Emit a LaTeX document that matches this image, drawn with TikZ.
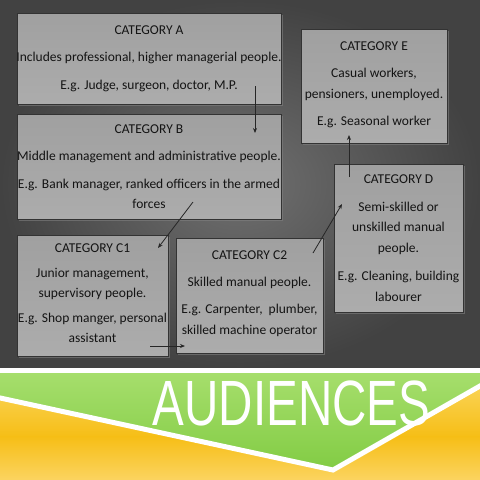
\documentclass[tikz,border=0pt]{standalone}
\usepackage{fontspec}
\setmainfont{Carlito}
\newfontfamily\audfont{Liberation Sans}
\usetikzlibrary{shadows,arrows.meta}
\definecolor{bgin}{RGB}{112,112,112}
\definecolor{bgout}{RGB}{66,66,66}
\definecolor{boxl}{RGB}{160,160,160}
\definecolor{boxm}{RGB}{200,200,200}
\definecolor{boxr}{RGB}{172,172,172}
\definecolor{grtop}{RGB}{166,222,108}
\definecolor{grbot}{RGB}{130,204,68}
\definecolor{yetop}{RGB}{251,216,100}
\definecolor{yemid}{RGB}{246,190,22}
\definecolor{yebot}{RGB}{251,212,96}
\tikzset{
  catbox/.style={draw=black!80, line width=0.8pt, left color=boxl, middle color=boxm, right color=boxr,
    shading angle=0, drop shadow={opacity=0.6, shadow xshift=2pt, shadow yshift=-2pt}, inner sep=0pt},
  cattext/.style={align=center, text=black!92, font=\fontsize{13.5}{20.5}\selectfont, inner sep=0pt},
  flow/.style={draw=black!85, line width=0.8pt, -{Stealth[length=5pt,width=4pt]}}
}
\begin{document}
\begin{tikzpicture}[x=1pt,y=-1pt]
\useasboundingbox (0,0) rectangle (480,480);
% background
\shade[inner color=bgin, outer color=bgout] (0,0) rectangle (480,368);
\fill[white] (0,368) rectangle (480,373);
\shade[top color=yetop, bottom color=yemid] (0,373) rectangle (480,437);
\shade[top color=yemid, bottom color=yebot] (0,436.5) rectangle (480,480);
\shade[top color=grtop, bottom color=grbot] (0,373) -- (480,373) -- (480,386) -- (333,470) -- (0,398) -- cycle;
\draw[white, line width=5pt, line join=miter] (-3,397.3) -- (333,470) -- (483,384.3);
\node[anchor=base, text=white, inner sep=0pt] (aud) at (291.5,425)
  {\scalebox{0.743}[1]{\audfont\fontsize{64}{64}\selectfont AUDIENCES}};
% boxes
\node[catbox, minimum width=264pt, minimum height=91pt] (A) at (149,58.5) {};
\node[catbox, minimum width=264pt, minimum height=105pt] (B) at (149,166.5) {};
\node[catbox, minimum width=146pt, minimum height=114pt] (E) at (374,86) {};
\node[catbox, minimum width=151pt, minimum height=121pt] (C1) at (92.5,295.5) {};
\node[catbox, minimum width=147pt, minimum height=115pt] (C2) at (249.5,295.5) {};
\node[catbox, minimum width=129pt, minimum height=148pt] (D) at (398.5,238) {};
% texts
\node[cattext] (tA) at (A.center) {CATEGORY A\\[7pt]Includes professional, higher managerial people.\\[7pt]E.g. Judge, surgeon, doctor, M.P.};
\node[cattext] (tB) at (B.center) {CATEGORY B\\[7pt]Middle management and administrative people.\\[7pt]E.g. Bank manager, ranked officers in the armed\\forces};
\node[cattext] (tE) at ([yshift=1pt]E.center) {CATEGORY E\\[7pt]Casual workers,\\pensioners, unemployed.\\[7pt]E.g. Seasonal worker};
\node[cattext] (tC1) at ([yshift=2pt]C1.center) {CATEGORY C1\\[4pt]Junior management,\\supervisory people.\\[4pt]E.g. Shop manger, personal\\assistant};
\node[cattext] (tC2) at ([yshift=2pt]C2.center) {CATEGORY C2\\[6pt]Skilled manual people.\\[7pt]E.g. Carpenter,\ \ plumber,\\skilled machine operator};
\node[cattext] (tD) at (D.center) {CATEGORY D\\[7pt]Semi-skilled or\\unskilled manual\\people.\\[8pt]E.g. Cleaning, building\\labourer};
% connector ends
\coordinate (ab1) at (255,86);  \coordinate (ab2) at (255,133);
\coordinate (bc1) at (193,202); \coordinate (bc2) at (158,248);
\coordinate (cc1) at (150,346); \coordinate (cc2) at (185,346);
\coordinate (cd1) at (313,253); \coordinate (cd2) at (342,204);
\coordinate (de1) at (349,177); \coordinate (de2) at (349,135);
\draw[flow] (ab1) -- (ab2);
\draw[flow] (bc1) -- (bc2);
\draw[flow] (cc1) -- (cc2);
\draw[flow] (cd1) -- (cd2);
\draw[flow] (de1) -- (de2);
\end{tikzpicture}
\end{document}
